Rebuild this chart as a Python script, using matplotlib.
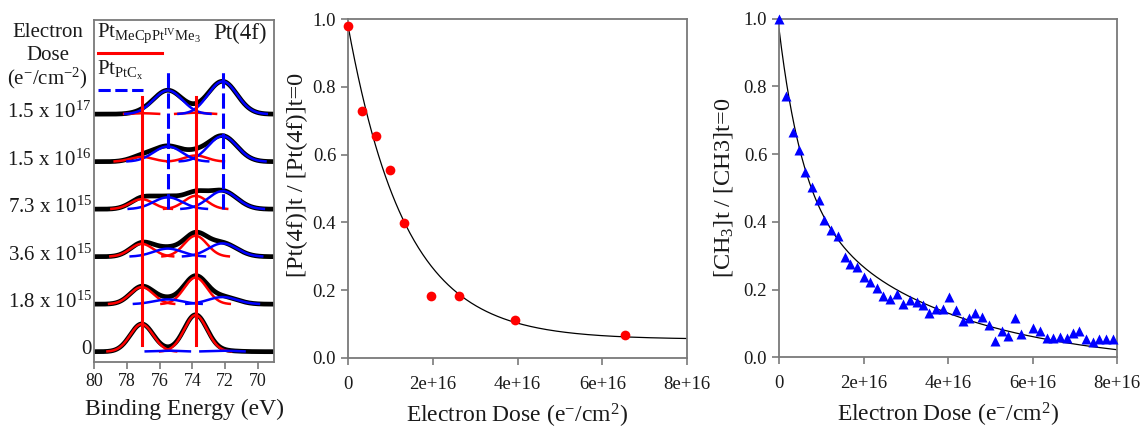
import numpy as np
import matplotlib
matplotlib.use("Agg")
import matplotlib.pyplot as plt
from matplotlib.transforms import blended_transform_factory

plt.rcParams["font.family"] = ["Liberation Serif", "DejaVu Serif"]
plt.rcParams["mathtext.fontset"] = "custom"
plt.rcParams["mathtext.rm"] = "Liberation Serif"
plt.rcParams["mathtext.it"] = "Liberation Serif:italic"
plt.rcParams["mathtext.bf"] = "Liberation Serif:bold"

# ---- left panel: Pt(4f) spectra, peak model ----
DOSE_LABELS = ["0", "1.8 x 10$^{15}$", "3.6 x 10$^{15}$", "7.3 x 10$^{15}$",
               "1.5 x 10$^{16}$", "1.5 x 10$^{17}$"]
RED_POS = [77.1, 73.8]      # MeCpPt(IV)Me3 component centres (eV)
BLUE_POS = [75.5, 72.15]    # PtCx component centres (eV)
RED_SIGMA = 0.7
BLUE_SIGMA = 0.88
RED_AMP = [[0.58, 0.77], [0.36, 0.56], [0.27, 0.44], [0.21, 0.28], [0.10, 0.13], [0.02, 0.03]]
BLUE_AMP = [[0.02, 0.02], [0.10, 0.15], [0.17, 0.28], [0.25, 0.38], [0.32, 0.54], [0.50, 0.69]]
BE_TICKS = [80, 78, 76, 74, 72, 70]

# ---- middle panel: Pt(4f) decay ----
PT_DOSE = [0.0, 0.32e16, 0.65e16, 0.98e16, 1.31e16, 1.96e16, 2.62e16, 3.94e16, 6.54e16]
PT_RATIO = [0.98, 0.73, 0.656, 0.556, 0.399, 0.183, 0.183, 0.111, 0.069]
PT_FIT = (0.925, 1.35e16, 0.055)   # amplitude, decay dose, offset

# ---- right panel: CH3 decay ----
CH3_DOSE = [0.0, 0.16, 0.32, 0.47, 0.62, 0.79, 0.94, 1.07, 1.23, 1.39, 1.55, 1.68, 1.84,
            2.00, 2.15, 2.31, 2.47, 2.63, 2.80, 2.94, 3.10, 3.26, 3.40, 3.56, 3.72, 3.87,
            4.02, 4.19, 4.35, 4.50, 4.65, 4.80, 4.96, 5.11, 5.28, 5.42, 5.58, 5.72, 6.00,
            6.18, 6.34, 6.49, 6.65, 6.81, 6.95, 7.11, 7.26, 7.42, 7.58, 7.74, 7.90]
CH3_RATIO = [1.0, 0.773, 0.666, 0.611, 0.546, 0.503, 0.465, 0.406, 0.377, 0.359, 0.296, 0.276,
             0.266, 0.237, 0.221, 0.204, 0.181, 0.172, 0.186, 0.157, 0.170, 0.162, 0.155,
             0.130, 0.142, 0.142, 0.179, 0.140, 0.108, 0.115, 0.130, 0.118, 0.094, 0.049,
             0.079, 0.063, 0.115, 0.069, 0.086, 0.079, 0.056, 0.056, 0.061, 0.056, 0.073,
             0.078, 0.053, 0.046, 0.053, 0.053, 0.053]
CH3_FIT = (0.498, 0.56e16, 0.499, 3.46e16, -0.027)  # fast amp, fast k, slow amp, slow k, offset

DOSE_TICKS = [0, 2e16, 4e16, 6e16, 8e16]
DOSE_TICK_LABELS = ["0", "2e+16", "4e+16", "6e+16", "8e+16"]

SPINE = "#7a7a7a"
TEXT = "#1a1a1a"


def gauss(x, mu, sig):
    return np.exp(-0.5 * ((x - mu) / sig) ** 2)


def style_axes(ax, labelsize=13.5):
    for s in ax.spines.values():
        s.set_color(SPINE)
        s.set_linewidth(1.3)
    ax.tick_params(direction="out", length=5, width=1.2, color=SPINE,
                   labelsize=labelsize, labelcolor=TEXT)


fig = plt.figure(figsize=(11.46, 4.28), dpi=100)

# ---------------- left ----------------
axL = fig.add_axes([0.0823, 0.155, 0.1568, 0.798])
style_axes(axL, 13)
be = np.linspace(80.5, 68.5, 600)
for i in range(len(DOSE_LABELS)):
    red = [RED_AMP[i][k] * gauss(be, RED_POS[k], RED_SIGMA) for k in range(2)]
    blue = [BLUE_AMP[i][k] * gauss(be, BLUE_POS[k], BLUE_SIGMA) for k in range(2)]
    total = sum(red) + sum(blue)
    axL.plot(be, i + total, color="black", lw=3.4, zorder=2, solid_capstyle="butt")
    for comp, col in zip(red + blue, ["red", "red", "blue", "blue"]):
        vis = np.where(comp > 0.006, i + comp, np.nan)
        axL.plot(be, vis, color=col, lw=1.8, zorder=3)
for p in RED_POS:
    axL.plot([p, p], [0.14, 5.37], color="red", lw=2.2, zorder=4)
for p in BLUE_POS:
    axL.plot([p, p], [3.0, 5.89], color="blue", lw=2.2, ls=(0, (5, 1.6)), zorder=4)
axL.set_xlim(80, 69)
axL.set_ylim(-0.21, 6.98)
axL.set_yticks([])
axL.set_xticks(BE_TICKS)
axL.set_xlabel("Binding Energy (eV)", fontsize=17, color=TEXT, labelpad=6)

trans = blended_transform_factory(axL.transAxes, axL.transData)
for i, lab in enumerate(DOSE_LABELS):
    axL.text(-0.015, i + 0.04, lab, transform=trans, ha="right", va="center",
             fontsize=15, color=TEXT)
for y, t in zip([0.965, 0.897, 0.830], ["Electron", "Dose", "(e$^{-}$/cm$^{-2}$)"]):
    axL.text(-0.26, y, t, transform=axL.transAxes, ha="center", va="center",
             fontsize=15, color=TEXT)

axL.text(0.015, 0.962, r"Pt$_{\mathrm{MeCpPt^{IV}Me_3}}$", transform=axL.transAxes,
         ha="left", va="center", fontsize=15, color=TEXT)
axL.plot([0.019, 0.375], [0.903, 0.903], transform=axL.transAxes, color="red", lw=2.2)
axL.text(0.015, 0.854, r"Pt$_{\mathrm{PtC_x}}$", transform=axL.transAxes,
         ha="left", va="center", fontsize=15, color=TEXT)
axL.plot([0.019, 0.27], [0.795, 0.795], transform=axL.transAxes, color="blue", lw=2.2,
         ls=(0, (4, 1.5)))
axL.text(0.96, 0.962, "Pt(4f)", transform=axL.transAxes, ha="right", va="center",
         fontsize=16.5, color=TEXT)

# ---------------- middle ----------------
axM = fig.add_axes([0.3037, 0.1636, 0.2958, 0.792])
style_axes(axM)
xs = np.linspace(0, 8e16, 400)
a, k, c = PT_FIT
axM.plot(xs, a * np.exp(-xs / k) + c, color="black", lw=0.9, zorder=2)
axM.plot(PT_DOSE, PT_RATIO, "o", color="red", ms=7, mec="none", zorder=3, clip_on=False)
axM.set_xlim(0, 8e16)
axM.set_ylim(0, 1.0)
axM.set_xticks(DOSE_TICKS)
axM.set_xticklabels(DOSE_TICK_LABELS)
axM.set_yticks([0, 0.2, 0.4, 0.6, 0.8, 1.0])
axM.set_yticklabels(["0.0", "0.2", "0.4", "0.6", "0.8", "1.0"])
axM.tick_params(axis="x", pad=8)
axM.set_xlabel("Electron Dose (e$^{-}$/cm$^2$)", fontsize=17, color=TEXT, labelpad=6)
axM.set_ylabel("[Pt(4f)]t / [Pt(4f)]t=0", fontsize=17.5, color=TEXT)
axM.yaxis.set_label_coords(-0.118, 0.54)

# ---------------- right ----------------
axR = fig.add_axes([0.6798, 0.1652, 0.2949, 0.7909])
style_axes(axR)
a1, k1, a2, k2, c2 = CH3_FIT
axR.plot(xs, a1 * np.exp(-xs / k1) + a2 * np.exp(-xs / k2) + c2, color="black", lw=0.9, zorder=2)
axR.plot(np.array(CH3_DOSE) * 1e16, CH3_RATIO, "^", color="blue", ms=7.5, mec="none",
         zorder=3, clip_on=False)
axR.set_xlim(0, 8e16)
axR.set_ylim(0, 1.0)
axR.set_xticks(DOSE_TICKS)
axR.set_xticklabels(DOSE_TICK_LABELS)
axR.set_yticks([0, 0.2, 0.4, 0.6, 0.8, 1.0])
axR.set_yticklabels(["0.0", "0.2", "0.4", "0.6", "0.8", "1.0"])
axR.tick_params(axis="x", pad=8)
axR.set_xlabel("Electron Dose (e$^{-}$/cm$^2$)", fontsize=17, color=TEXT, labelpad=6)
axR.set_ylabel("[CH$_3$]t / [CH3]t=0", fontsize=17.5, color=TEXT)
axR.yaxis.set_label_coords(-0.13, 0.5)

fig.savefig("out.png", dpi=100)
